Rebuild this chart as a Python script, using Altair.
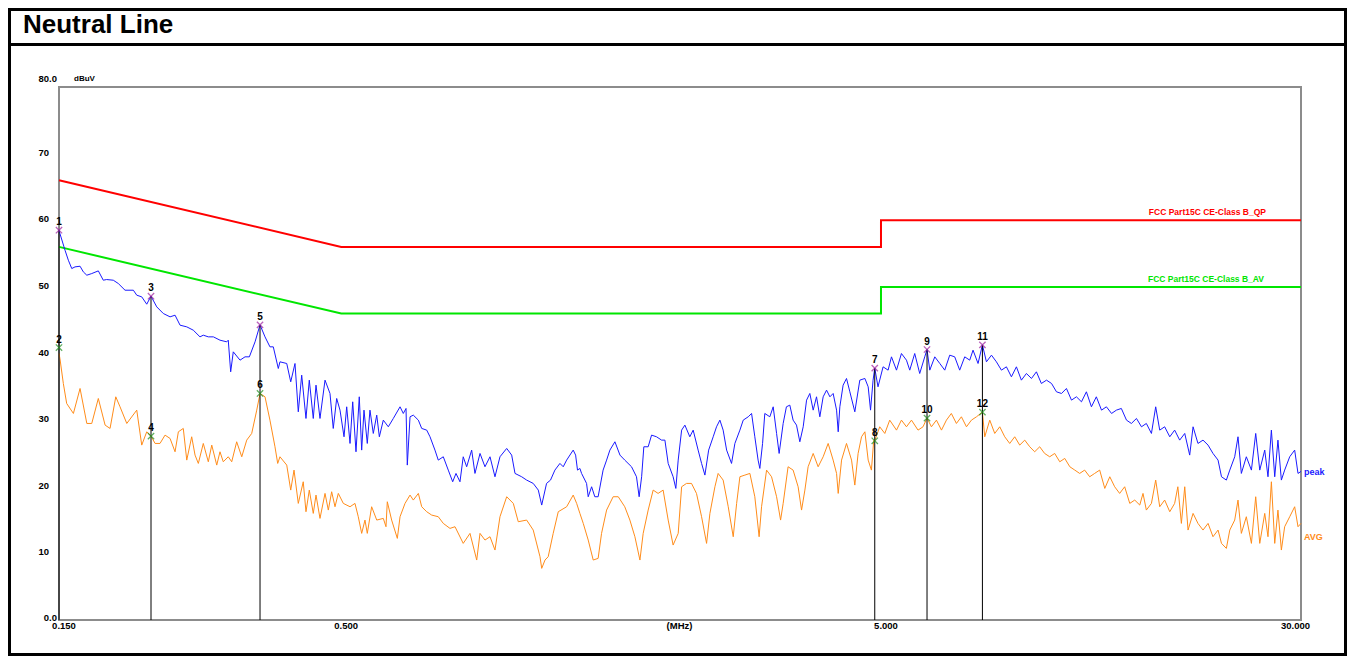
import altair as alt
import pandas as pd

FONT = "Liberation Sans"

# ---------------- data ----------------
peak_freq = [0.150, 0.1506, 0.1539, 0.1561, 0.1584, 0.1606, 0.1641, 0.1664, 0.1689, 0.1725,
             0.1774, 0.1812, 0.1838, 0.1891, 0.1932, 0.1988, 0.2060, 0.2090, 0.2135, 0.2181,
             0.2221, 0.2276, 0.2341, 0.2409, 0.2461, 0.2514, 0.2587, 0.2660, 0.2737, 0.2776,
             0.2836, 0.2898, 0.2981, 0.3068, 0.3088, 0.3120, 0.3155, 0.3247, 0.3317, 0.3379,
             0.3462, 0.3536, 0.3612, 0.3689, 0.3742, 0.3823, 0.3850, 0.3963, 0.4031, 0.4105,
             0.4163, 0.4224, 0.4302, 0.4363, 0.4438, 0.4490, 0.4567, 0.4666, 0.4766, 0.4833,
             0.4904, 0.4974, 0.5060, 0.5118, 0.5191, 0.5251, 0.5325, 0.5400, 0.5456, 0.5510,
             0.5588, 0.5652, 0.5733, 0.5818, 0.5883, 0.5983, 0.6112, 0.6244, 0.6426, 0.6516,
             0.6592, 0.6628, 0.6706, 0.6800, 0.6948, 0.7048, 0.7200, 0.7302, 0.7458, 0.7564,
             0.7728, 0.7894, 0.8044, 0.8158, 0.8298, 0.8414, 0.8538, 0.8722, 0.8846, 0.9038,
             0.9232, 0.9432, 0.9634, 0.9842, 1.0128, 1.0346, 1.0494, 1.0796, 1.1028, 1.1342,
             1.159, 1.176, 1.2005, 1.221, 1.244, 1.271, 1.289, 1.308, 1.345, 1.359,
             1.370, 1.384, 1.394, 1.424, 1.434, 1.455, 1.475, 1.496, 1.528, 1.551,
             1.573, 1.607, 1.642, 1.676, 1.725, 1.762, 1.782, 1.801, 1.818, 1.852,
             1.879, 1.919, 1.961, 1.989, 2.017, 2.060, 2.084, 2.105, 2.136, 2.166,
             2.212, 2.244, 2.292, 2.326, 2.359, 2.397, 2.444, 2.479, 2.515, 2.550,
             2.588, 2.643, 2.681, 2.739, 2.778, 2.838, 2.879, 2.919, 2.960, 2.982,
             3.017, 3.046, 3.112, 3.157, 3.203, 3.238, 3.294, 3.340, 3.389, 3.437,
             3.487, 3.537, 3.588, 3.640, 3.691, 3.744, 3.798, 3.852, 3.907, 3.964,
             4.021, 4.077, 4.137, 4.166, 4.195, 4.254, 4.316, 4.378, 4.472, 4.568,
             4.668, 4.734, 4.782, 4.834, 4.869, 4.937, 5.045, 5.154, 5.229, 5.342,
             5.456, 5.574, 5.653, 5.774, 5.898, 6.026, 6.085, 6.157, 6.290, 6.426,
             6.563, 6.704, 6.848, 6.995, 7.147, 7.301, 7.405, 7.565, 7.707, 7.840,
             8.010, 8.181, 8.358, 8.538, 8.722, 8.910, 9.101, 9.299, 9.501, 9.703,
             9.911, 10.13, 10.35, 10.57, 10.80, 11.03, 11.27, 11.51, 11.76, 12.01,
             12.27, 12.53, 12.81, 13.08, 13.37, 13.65, 13.94, 14.25, 14.55, 14.87,
             15.19, 15.51, 15.85, 16.14, 16.42, 16.77, 17.14, 17.50, 17.88, 18.27,
             18.66, 18.93, 19.33, 19.75, 20.18, 20.61, 21.06, 21.37, 21.82, 22.14,
             22.61, 22.93, 23.26, 23.76, 24.28, 24.73, 25.16, 25.70, 26.06, 26.44,
             26.82, 27.19, 27.59, 27.98, 28.59, 29.20, 29.62, 30.0]
peak_dbuv = [58.5, 58, 55.5, 54, 52.75, 53, 53.1, 52.25, 51.75, 52,
             52.4, 51, 51.1, 51, 50.5, 49.5, 49.5, 48.75, 48.5, 47.4,
             48.6, 47, 46, 45.5, 45.75, 44.25, 44, 43.5, 42.5, 42.75,
             42.5, 42.5, 42, 41.75, 42, 37.25, 40.25, 39, 39.5, 39.5,
             41.75, 44.3, 42.5, 41, 41, 37.75, 38.75, 38.5, 35.75, 38.5,
             31.25, 36.75, 30.25, 36, 30.25, 35.25, 30.25, 36, 34, 28.75,
             33.25, 31.5, 27.5, 32, 26.5, 32.75, 25.25, 33.5, 25.5, 31.5,
             26.5, 31.5, 28, 30.75, 27.5, 30, 29, 30.25, 32, 31,
             31.75, 23.25, 30.5, 30.75, 30, 28.75, 28.5, 27.5, 25.5, 24,
             24.5, 22.5, 20.75, 22, 20.75, 24.5, 23, 25.5, 22, 25,
             23, 24.5, 21.5, 24.5, 25.75, 24.75, 22, 21.5, 21, 20.5,
             19.5, 17.25, 20.5, 21, 22.5, 23.5, 23, 24, 25.5, 24.75,
             22.5, 22.75, 22, 20.5, 18.5, 20, 18.5, 18.5, 22.5, 24,
             25.5, 26.75, 24.75, 24, 23, 21.5, 18.5, 21.5, 26, 26,
             27.75, 27.5, 27, 27, 23.5, 21.5, 19.75, 24, 28.5, 29.25,
             27.5, 28.5, 25.5, 23.5, 21.75, 25.5, 27.5, 29, 30, 28.5,
             25.5, 23.5, 26.5, 28.5, 30, 30.5, 31, 27.5, 24, 22.75,
             26.5, 31, 30.5, 32, 28, 25, 29.5, 32, 32.25, 30,
             29.25, 26.75, 29, 33, 34, 31.5, 33.5, 30.5, 33.5, 34.5,
             33.5, 34, 31.5, 28.25, 32, 35.25, 36.25, 34.25, 31.25, 36,
             36.25, 35, 31.5, 36, 37.8, 35, 38, 37.5, 39.5, 37.5,
             40, 39, 37.5, 40, 37, 39.5, 40.6, 37.5, 39.5, 38.5,
             37.5, 39.75, 39.5, 37.5, 39.5, 39, 40.5, 38.5, 41.3, 38.75,
             39.75, 38.75, 37.5, 38, 36.5, 38, 36, 37, 36.25, 37.25,
             35.5, 36, 35.5, 34.25, 34, 34.75, 33, 33.5, 32.75, 34.25,
             32, 33.5, 31.5, 32, 31, 31.5, 31.75, 30, 29.5, 30.25,
             29, 29.5, 28, 32, 28.5, 29, 27.5, 28.5, 27, 28,
             24.75, 29, 26.5, 27, 26.25, 25, 24, 21.5, 21, 22.5,
             24.5, 27.5, 22, 24.5, 22.5, 28, 22.5, 25.5, 21.5, 28.5,
             21.5, 27, 21, 22.5, 24.5, 25.5, 22, 22.3]

avg_freq = [0.150, 0.1506, 0.1528, 0.1550, 0.1595, 0.1641, 0.1689, 0.1725, 0.1774, 0.1826,
            0.1865, 0.1911, 0.1946, 0.2003, 0.2090, 0.2135, 0.2181, 0.2221, 0.2260, 0.2308,
            0.2358, 0.2409, 0.2461, 0.2496, 0.2549, 0.2587, 0.2642, 0.2680, 0.2718, 0.2776,
            0.2836, 0.2878, 0.2940, 0.2981, 0.3023, 0.3088, 0.3134, 0.3201, 0.3271, 0.3341,
            0.3413, 0.3487, 0.3536, 0.3612, 0.3689, 0.3769, 0.3813, 0.3850, 0.3963, 0.4031,
            0.4088, 0.4163, 0.4252, 0.4302, 0.4363, 0.4438, 0.4490, 0.4567, 0.4666, 0.4732,
            0.4800, 0.4869, 0.4938, 0.5045, 0.5191, 0.5302, 0.5377, 0.5456, 0.5533, 0.5588,
            0.5693, 0.5818, 0.5983, 0.6052, 0.6086, 0.6200, 0.6352, 0.6426, 0.6564, 0.6706,
            0.6800, 0.6948, 0.7048, 0.7200, 0.7354, 0.7564, 0.7728, 0.7952, 0.8124, 0.8414,
            0.8660, 0.8912, 0.9038, 0.9232, 0.9432, 0.9634, 0.9842, 1.0128, 1.0418, 1.064,
            1.1028, 1.1342, 1.1674, 1.176, 1.1926, 1.209, 1.235, 1.262, 1.308, 1.345,
            1.365, 1.384, 1.404, 1.434, 1.465, 1.496, 1.518, 1.551, 1.595, 1.630,
            1.676, 1.713, 1.750, 1.788, 1.813, 1.852, 1.892, 1.932, 1.974, 2.017,
            2.060, 2.105, 2.136, 2.181, 2.228, 2.276, 2.326, 2.376, 2.410, 2.462,
            2.496, 2.550, 2.606, 2.662, 2.701, 2.739, 2.798, 2.858, 2.919, 2.973,
            3.004, 3.069, 3.135, 3.203, 3.258, 3.294, 3.364, 3.437, 3.511, 3.563,
            3.614, 3.664, 3.744, 3.824, 3.907, 3.991, 4.077, 4.137, 4.166, 4.226,
            4.316, 4.410, 4.472, 4.535, 4.602, 4.668, 4.734, 4.800, 4.848, 4.869,
            4.973, 5.082, 5.190, 5.342, 5.456, 5.574, 5.694, 5.856, 5.982, 6.085,
            6.200, 6.334, 6.472, 6.610, 6.750, 6.898, 7.046, 7.200, 7.354, 7.514,
            7.707, 7.784, 7.952, 8.123, 8.299, 8.477, 8.659, 8.846, 9.037, 9.232,
            9.432, 9.632, 9.840, 10.05, 10.27, 10.49, 10.72, 10.95, 11.19, 11.43,
            11.67, 11.92, 12.18, 12.44, 12.71, 12.99, 13.27, 13.55, 13.84, 14.14,
            14.45, 14.76, 15.08, 15.29, 15.51, 15.85, 16.14, 16.42, 16.77, 17.14,
            17.50, 17.74, 18.01, 18.27, 18.53, 18.93, 19.33, 19.75, 20.18, 20.61,
            21.06, 21.37, 21.82, 22.14, 22.61, 22.93, 23.26, 23.76, 24.28, 24.73,
            25.16, 25.70, 26.06, 26.44, 26.82, 27.19, 27.59, 27.98, 28.59, 29.20,
            29.62, 30.0]
avg_dbuv = [40, 39.25, 35.5, 32.5, 31, 34.75, 29.5, 29.5, 33.25, 29.25,
            28.75, 33.5, 32, 29.5, 31.5, 26.25, 28.25, 27.6, 26.5, 26.5,
            27.75, 27.25, 25.25, 28.25, 28.75, 24, 27.5, 24.75, 23.5, 26.5,
            23.75, 26.25, 23.25, 25.25, 23.75, 24.5, 23.75, 26.75, 24.5, 27,
            28, 31.5, 34, 33.5, 30, 26, 23.5, 24.5, 23.25, 19.5,
            22.5, 17.5, 20.75, 16.25, 19.5, 16, 18.75, 15.25, 19, 16.5,
            19.25, 17, 19, 17.5, 17, 17.5, 15.5, 13, 15, 13,
            17, 15, 15.25, 14, 17.75, 15, 12.25, 15.5, 17.5, 18.75,
            18, 19, 17, 16.25, 15.75, 15.5, 14.5, 13.75, 14, 11.5,
            13, 9, 13, 12, 12.5, 10.5, 15.5, 18.5, 17.5, 14.75,
            15, 13.5, 9.5, 7.75, 9, 9.5, 13, 16.25, 17, 18.75,
            17.5, 16, 14.5, 12, 9, 9.25, 13, 16.5, 18.5, 18.5,
            17, 15, 12.5, 9, 13, 16.5, 19.5, 19, 19.5, 15,
            11.25, 13, 20, 20.5, 20.5, 19, 15.5, 11.5, 16, 20,
            22, 21, 17, 12.5, 17.5, 21.5, 21.75, 22, 18.5, 12.5,
            17, 22.5, 21.5, 18.5, 15, 17.5, 23, 22.5, 20, 16.5,
            19.5, 23, 25, 23, 24.5, 26.5, 24, 22, 19, 24,
            26.5, 24, 20.25, 25, 27.5, 28.25, 24, 22.5, 27, 26.9,
            29, 28, 30, 28.5, 30, 29, 30, 28.5, 29, 30.3,
            29, 30, 28.5, 30, 31, 29.5, 30.5, 29, 30, 30.5,
            31.2, 27.5, 30, 28, 29, 27.5, 26.5, 27.5, 26.25, 27,
            26, 25.25, 26, 25, 24.5, 25, 23.75, 24.25, 23, 22.5,
            22, 22.5, 21.5, 22, 22.5, 19.75, 21.5, 20, 19, 20,
            17.5, 18, 17.25, 19, 16.5, 17.5, 21, 17, 18, 16.25,
            17.5, 20, 14.5, 20, 13.5, 16, 14.5, 13.5, 14.5, 12.5,
            13.5, 11.5, 10.75, 13.5, 15, 18, 13, 15.5, 11.5, 18.5,
            11.5, 16, 12.5, 20.75, 11.5, 16.5, 10.5, 14, 15.5, 17,
            14, 14.5]

limit_freq = [0.15, 0.5, 5.0, 5.0, 30.0]
qp_limit = [66, 56, 56, 60, 60]
av_limit = [56, 46, 46, 50, 50]

marker_no = ["1", "2", "3", "4", "5", "6", "7", "8", "9", "10", "11", "12"]
marker_freq = [0.150, 0.150, 0.2221, 0.2221, 0.3536, 0.3536, 4.869, 4.869, 6.085, 6.085, 7.707, 7.707]
marker_dbuv = [58.5, 40.9, 48.6, 27.6, 44.3, 34.0, 37.8, 26.9, 40.6, 30.3, 41.3, 31.2]
marker_trace = ["peak", "avg"] * 6

grid_x = [0.2, 0.3, 0.4, 0.5, 0.6, 0.7, 0.8, 0.9, 1, 2, 3, 4, 5, 6, 7, 8, 9, 10, 20]
grid_y = [10, 20, 30, 40, 50, 60, 70]
y_labels = ["10", "20", "30", "40", "50", "60", "70"]
x_label_freq = [0.15, 0.5, 5.0]
x_labels = ["0.150", "0.500", "5.000"]

# ---------------- tables ----------------
peak_df = pd.DataFrame({"freq": peak_freq, "dbuv": peak_dbuv, "i": range(len(peak_freq))})
avg_df = pd.DataFrame({"freq": avg_freq, "dbuv": avg_dbuv, "i": range(len(avg_freq))})
qp_df = pd.DataFrame({"freq": limit_freq, "dbuv": qp_limit, "i": range(5)})
av_df = pd.DataFrame({"freq": limit_freq, "dbuv": av_limit, "i": range(5)})
mk_df = pd.DataFrame({"no": marker_no, "freq": marker_freq, "dbuv": marker_dbuv, "trace": marker_trace})
rule_df = mk_df[mk_df["trace"] == "peak"]
ylab_df = pd.DataFrame({"dbuv": grid_y, "t": y_labels})
xlab_df = pd.DataFrame({"freq": x_label_freq, "t": x_labels})

xs = alt.Scale(type="log", domain=[0.15, 30.0], nice=False)
ys = alt.Scale(domain=[0, 80], nice=False)


def X(axis=None):
    return alt.X("freq:Q", scale=xs, axis=axis)


def Y(axis=None):
    return alt.Y("dbuv:Q", scale=ys, axis=axis)


x_axis = alt.Axis(values=grid_x, grid=True, gridColor="#cfcfcf", gridWidth=1.5,
                  labels=False, ticks=False, domain=False, title=None)
y_axis = alt.Axis(values=grid_y, grid=True, gridColor="#cfcfcf", gridWidth=1.5,
                  labels=False, ticks=False, domain=False, title=None)

qp_line = alt.Chart(qp_df).mark_line(color="#ff0000", strokeWidth=2).encode(
    x=X(x_axis), y=Y(y_axis), order="i:Q")
av_line = alt.Chart(av_df).mark_line(color="#00e600", strokeWidth=2).encode(
    x=X(), y=Y(), order="i:Q")
avg_line = alt.Chart(avg_df).mark_line(color="#ff8c1a", strokeWidth=1).encode(
    x=X(), y=Y(), order="i:Q")
peak_line = alt.Chart(peak_df).mark_line(color="#1a1aff", strokeWidth=1).encode(
    x=X(), y=Y(), order="i:Q")

rules = alt.Chart(rule_df).mark_rule(color="#000000", strokeWidth=1).encode(
    x=X(), y=Y(), y2=alt.datum(0))

xshape = "M-1,-1L1,1M-1,1L1,-1"
marks = alt.Chart(mk_df).mark_point(shape=xshape, filled=False, size=40, strokeWidth=1.3).encode(
    x=X(), y=Y(),
    color=alt.Color("trace:N", scale=alt.Scale(domain=["peak", "avg"], range=["#a020a0", "#1f8f1f"]),
                    legend=None))
mark_nums = alt.Chart(mk_df).mark_text(font=FONT, fontSize=10, fontWeight="bold", color="#000000",
                                       baseline="bottom", dy=-3).encode(
    x=X(), y=Y(), text="no:N")

# limit and trace labels
qp_text = alt.Chart(pd.DataFrame({"freq": [30.0], "dbuv": [60], "t": ["FCC Part15C CE-Class B_QP"]})).mark_text(
    font=FONT, fontSize=8.5, fontWeight="bold", color="#ff0000", align="right", baseline="middle",
    dx=-35, dy=-8).encode(x=X(), y=Y(), text="t:N")
av_text = alt.Chart(pd.DataFrame({"freq": [30.0], "dbuv": [50], "t": ["FCC Part15C CE-Class B_AV"]})).mark_text(
    font=FONT, fontSize=8.5, fontWeight="bold", color="#00e600", align="right", baseline="middle",
    dx=-37, dy=-8).encode(x=X(), y=Y(), text="t:N")
peak_text = alt.Chart(pd.DataFrame({"freq": [30.0], "dbuv": [22.2], "t": ["peak"]})).mark_text(
    font=FONT, fontSize=9, fontWeight="bold", color="#1a1aff", align="left", baseline="middle", dx=3).encode(
    x=X(), y=Y(), text="t:N")
avg_text = alt.Chart(pd.DataFrame({"freq": [30.0], "dbuv": [12.5], "t": ["AVG"]})).mark_text(
    font=FONT, fontSize=9, fontWeight="bold", color="#ff8c1a", align="left", baseline="middle", dx=3).encode(
    x=X(), y=Y(), text="t:N")

# axis labels
ylab = alt.Chart(ylab_df).mark_text(font=FONT, fontSize=9.5, fontWeight="bold", color="#000000",
                                    align="right", baseline="middle", dy=-1).encode(
    x=alt.value(-10), y=Y(), text="t:N")
ytop = alt.Chart(pd.DataFrame({"dbuv": [80], "t": ["80.0"]})).mark_text(
    font=FONT, fontSize=9.5, fontWeight="bold", color="#000000", align="right", baseline="middle",
    dy=-8.5).encode(x=alt.value(-2), y=Y(), text="t:N")
ybot = alt.Chart(pd.DataFrame({"dbuv": [0], "t": ["0.0"]})).mark_text(
    font=FONT, fontSize=9.5, fontWeight="bold", color="#000000", align="right", baseline="middle",
    dy=-2.5).encode(x=alt.value(-2), y=Y(), text="t:N")
xlab = alt.Chart(xlab_df).mark_text(font=FONT, fontSize=9.5, fontWeight="bold", color="#000000",
                                    align="center", baseline="middle", dx=5).encode(
    x=X(), y=alt.value(539), text="t:N")
xlast = alt.Chart(pd.DataFrame({"freq": [30.0], "t": ["30.000"]})).mark_text(
    font=FONT, fontSize=9.5, fontWeight="bold", color="#000000", align="right", baseline="middle",
    dx=9).encode(x=X(), y=alt.value(539), text="t:N")
unit_x = alt.Chart(pd.DataFrame({"t": ["(MHz)"]})).mark_text(
    font=FONT, fontSize=9.5, fontWeight="bold", color="#000000", align="center", baseline="middle").encode(
    x=alt.value(620.5), y=alt.value(539), text="t:N")
unit_y = alt.Chart(pd.DataFrame({"t": ["dBuV"]})).mark_text(
    font=FONT, fontSize=8, fontWeight="bold", color="#000000", align="left", baseline="middle").encode(
    x=alt.value(15), y=alt.value(-8.5), text="t:N")

# page frame and header
frame = alt.Chart(pd.DataFrame({"k": [0]})).mark_rect(fill=None, stroke="#000000", strokeWidth=3).encode(
    x=alt.value(-49.5), x2=alt.value(1286.5), y=alt.value(-77.5), y2=alt.value(567.5))
header_rule = alt.Chart(pd.DataFrame({"k": [0]})).mark_rule(color="#000000", strokeWidth=3).encode(
    x=alt.value(-51), x2=alt.value(1288), y=alt.value(-42.5))
title = alt.Chart(pd.DataFrame({"t": ["Neutral Line"]})).mark_text(
    font=FONT, fontSize=26, fontWeight="bold", color="#000000", align="left", baseline="alphabetic").encode(
    x=alt.value(-36), y=alt.value(-54), text="t:N")

chart = alt.layer(
    qp_line, av_line, avg_line, peak_line, rules, marks, mark_nums,
    qp_text, av_text, peak_text, avg_text,
    ylab, ytop, ybot, xlab, xlast, unit_x, unit_y,
    frame, header_rule, title,
).properties(
    width=1242, height=533,
    autosize=alt.AutoSizeParams(type="none"),
    padding={"left": 51, "top": 79, "right": 46, "bottom": 36},
    background="#ffffff",
).configure_view(stroke="#8c8c8c", strokeWidth=2)

chart.save("out.html", embed_options={"renderer": "svg", "actions": False})
